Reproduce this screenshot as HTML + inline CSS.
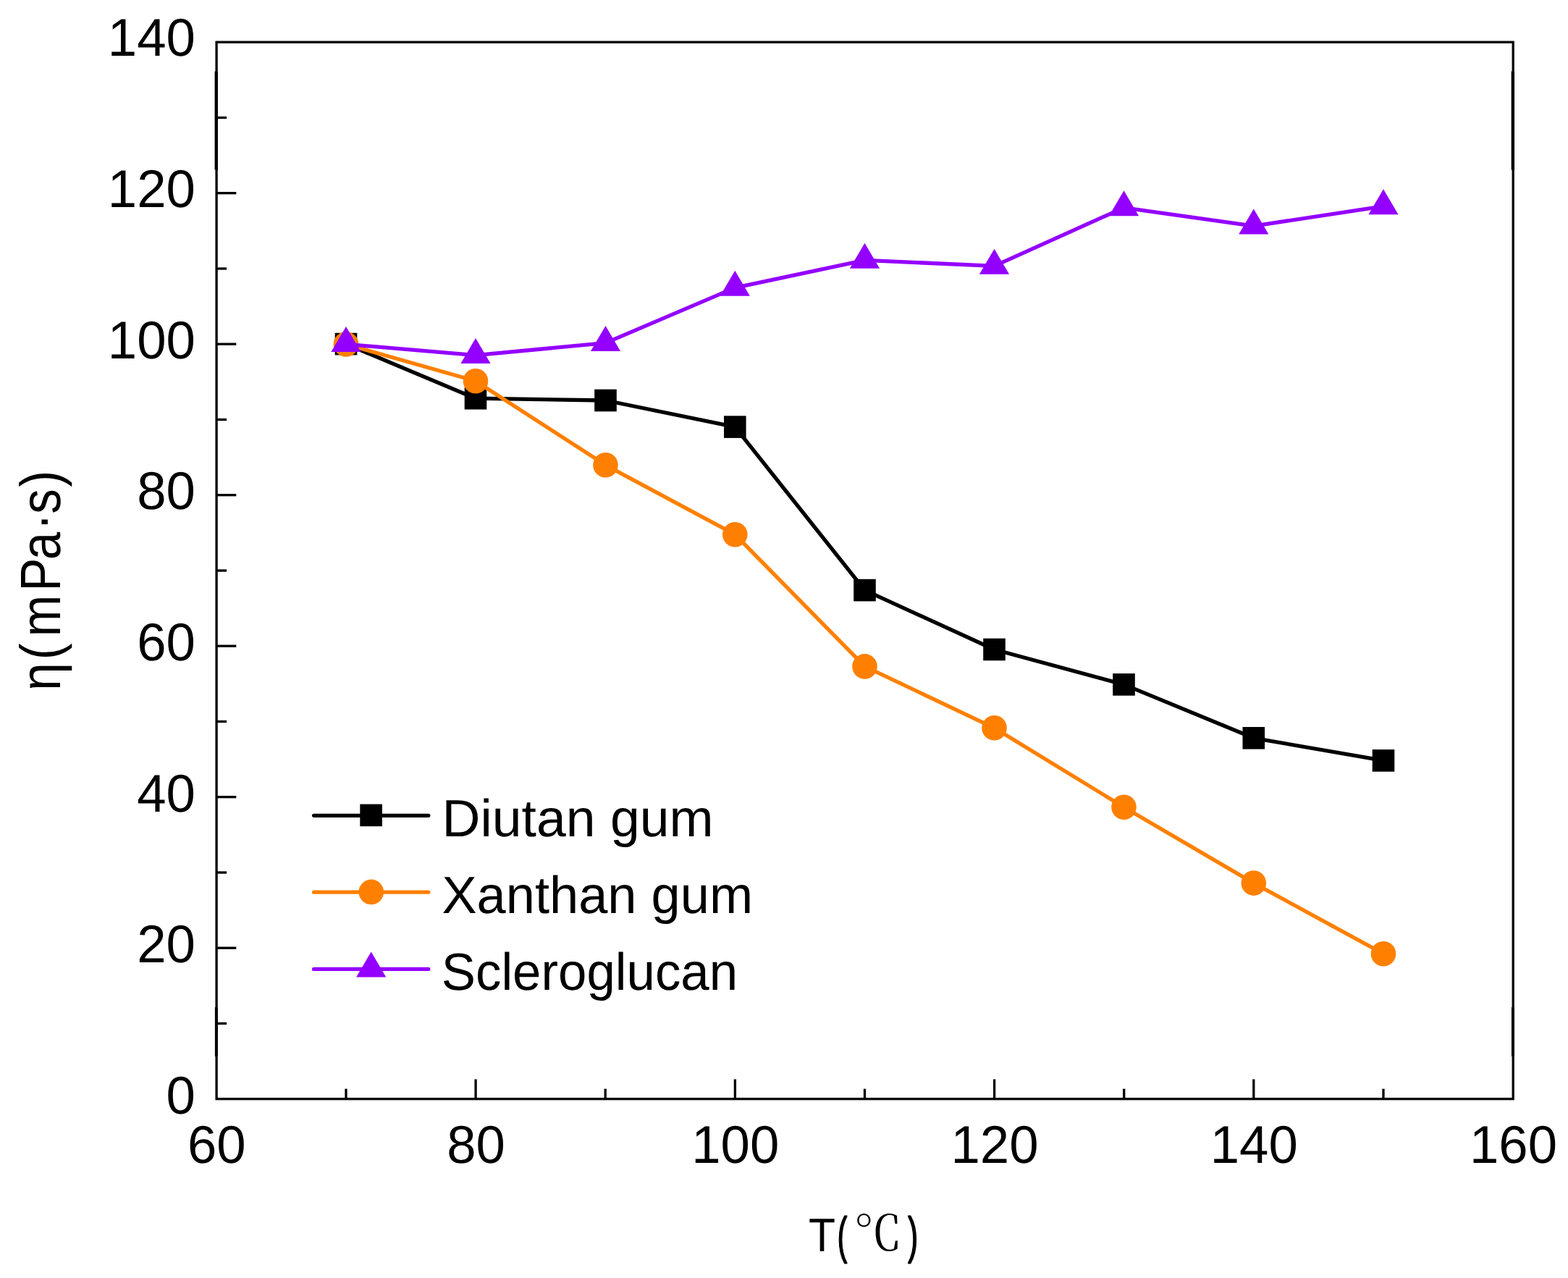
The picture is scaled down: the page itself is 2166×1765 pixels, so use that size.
<!DOCTYPE html>
<html lang="en">
<head>
<meta charset="utf-8">
<title>Viscosity vs temperature</title>
<style>
html,body{margin:0;padding:0;background:#fff;}
body{width:2166px;height:1765px;overflow:hidden;}
svg{display:block;}
text{fill:#000;font-kerning:none;white-space:pre;text-rendering:geometricPrecision;}
.t{font-family:"Liberation Sans",sans-serif;}
.c{font-family:"Noto Serif CJK SC","Liberation Serif",serif;}
</style>
</head>
<body>
<svg width="2166" height="1765" viewBox="0 0 2166 1765">
<rect x="0" y="0" width="2166" height="1765" fill="#ffffff"/>
<g id="series-diutan">
<polyline points="478.0,475.1 657.0,550.2 836.5,553.0 1015.3,589.6 1194.5,815.1 1373.5,897.0 1552.5,945.4 1731.8,1019.3 1911.0,1050.4" fill="none" stroke="#000000" stroke-width="5.3" stroke-linejoin="round" stroke-linecap="round"/>
<rect x="462.7" y="459.8" width="30.6" height="30.6" fill="#000000"/>
<rect x="641.7" y="534.9" width="30.6" height="30.6" fill="#000000"/>
<rect x="821.2" y="537.7" width="30.6" height="30.6" fill="#000000"/>
<rect x="1000.0" y="574.3" width="30.6" height="30.6" fill="#000000"/>
<rect x="1179.2" y="799.8" width="30.6" height="30.6" fill="#000000"/>
<rect x="1358.2" y="881.7" width="30.6" height="30.6" fill="#000000"/>
<rect x="1537.2" y="930.1" width="30.6" height="30.6" fill="#000000"/>
<rect x="1716.5" y="1004.0" width="30.6" height="30.6" fill="#000000"/>
<rect x="1895.7" y="1035.1" width="30.6" height="30.6" fill="#000000"/>
</g>
<g id="series-xanthan">
<polyline points="478.0,475.4 657.0,526.3 836.5,642.3 1015.3,738.2 1194.5,920.4 1373.5,1005.3 1552.5,1114.7 1731.8,1219.6 1911.0,1317.2" fill="none" stroke="#ff8000" stroke-width="5.3" stroke-linejoin="round" stroke-linecap="round"/>
<circle cx="478.0" cy="475.4" r="17.3" fill="#ff8000"/>
<circle cx="657.0" cy="526.3" r="17.3" fill="#ff8000"/>
<circle cx="836.5" cy="642.3" r="17.3" fill="#ff8000"/>
<circle cx="1015.3" cy="738.2" r="17.3" fill="#ff8000"/>
<circle cx="1194.5" cy="920.4" r="17.3" fill="#ff8000"/>
<circle cx="1373.5" cy="1005.3" r="17.3" fill="#ff8000"/>
<circle cx="1552.5" cy="1114.7" r="17.3" fill="#ff8000"/>
<circle cx="1731.8" cy="1219.6" r="17.3" fill="#ff8000"/>
<circle cx="1911.0" cy="1317.2" r="17.3" fill="#ff8000"/>
</g>
<g id="series-scleroglucan">
<polyline points="478.0,475.4 657.0,490.7 836.5,473.6 1015.3,397.4 1194.5,359.4 1373.5,367.3 1552.5,286.8 1731.8,312.1 1911.0,284.8" fill="none" stroke="#9400ff" stroke-width="5.3" stroke-linejoin="round" stroke-linecap="round"/>
<polygon points="478.0,451.0 498.6,486.0 457.4,486.0" fill="#9400ff"/>
<polygon points="657.0,467.1 677.6,502.1 636.4,502.1" fill="#9400ff"/>
<polygon points="836.5,450.0 857.1,485.0 815.9,485.0" fill="#9400ff"/>
<polygon points="1015.3,373.8 1035.9,408.8 994.7,408.8" fill="#9400ff"/>
<polygon points="1194.5,335.8 1215.1,370.8 1173.9,370.8" fill="#9400ff"/>
<polygon points="1373.5,343.7 1394.1,378.7 1352.9,378.7" fill="#9400ff"/>
<polygon points="1552.5,263.2 1573.1,298.2 1531.9,298.2" fill="#9400ff"/>
<polygon points="1731.8,288.5 1752.4,323.5 1711.2,323.5" fill="#9400ff"/>
<polygon points="1911.0,261.2 1931.6,296.2 1890.4,296.2" fill="#9400ff"/>
</g>
<g id="axes" stroke="#000" fill="none">
<rect x="299.1" y="58.2" width="1791.1" height="1459.5" stroke-width="3.3"/>
<line x1="298.8" y1="98.5" x2="298.8" y2="234.6" stroke-width="4.4"/>
<line x1="298.90000000000003" y1="1391" x2="298.90000000000003" y2="1459" stroke-width="4.0"/>
<line x1="2089.85" y1="98.5" x2="2089.85" y2="234.6" stroke-width="4.4"/>
<line x1="2089.9500000000003" y1="1391" x2="2089.9500000000003" y2="1459" stroke-width="4.0"/>
<line x1="299.1" y1="1413.5" x2="313.1" y2="1413.5" stroke-width="3.3"/>
<line x1="299.1" y1="1309.2" x2="326.3" y2="1309.2" stroke-width="3.3"/>
<line x1="299.1" y1="1205.0" x2="313.1" y2="1205.0" stroke-width="3.3"/>
<line x1="299.1" y1="1100.7" x2="326.3" y2="1100.7" stroke-width="3.3"/>
<line x1="299.1" y1="996.5" x2="313.1" y2="996.5" stroke-width="3.3"/>
<line x1="299.1" y1="892.2" x2="326.3" y2="892.2" stroke-width="3.3"/>
<line x1="299.1" y1="788.0" x2="313.1" y2="788.0" stroke-width="3.3"/>
<line x1="299.1" y1="683.7" x2="326.3" y2="683.7" stroke-width="3.3"/>
<line x1="299.1" y1="579.5" x2="313.1" y2="579.5" stroke-width="3.3"/>
<line x1="299.1" y1="475.2" x2="326.3" y2="475.2" stroke-width="3.3"/>
<line x1="299.1" y1="371.0" x2="313.1" y2="371.0" stroke-width="3.3"/>
<line x1="299.1" y1="266.7" x2="326.3" y2="266.7" stroke-width="3.3"/>
<line x1="299.1" y1="162.5" x2="313.1" y2="162.5" stroke-width="3.3"/>
<line x1="478.0" y1="1517.7" x2="478.0" y2="1503.7" stroke-width="3.3"/>
<line x1="657.1" y1="1517.7" x2="657.1" y2="1490.5" stroke-width="3.3"/>
<line x1="836.2" y1="1517.7" x2="836.2" y2="1503.7" stroke-width="3.3"/>
<line x1="1015.4" y1="1517.7" x2="1015.4" y2="1490.5" stroke-width="3.3"/>
<line x1="1194.5" y1="1517.7" x2="1194.5" y2="1503.7" stroke-width="3.3"/>
<line x1="1373.6" y1="1517.7" x2="1373.6" y2="1490.5" stroke-width="3.3"/>
<line x1="1552.7" y1="1517.7" x2="1552.7" y2="1503.7" stroke-width="3.3"/>
<line x1="1731.8" y1="1517.7" x2="1731.8" y2="1490.5" stroke-width="3.3"/>
<line x1="1911.0" y1="1517.7" x2="1911.0" y2="1503.7" stroke-width="3.3"/>
</g>
<g id="ticklabels">
<text class="t" transform="translate(229.55 1538.10) scale(0.987 1)" font-size="73.5">0</text>
<text class="t" transform="translate(189.21 1329.39) scale(0.987 1)" font-size="73.5">20</text>
<text class="t" transform="translate(189.21 1120.67) scale(0.987 1)" font-size="73.5">40</text>
<text class="t" transform="translate(189.21 911.96) scale(0.987 1)" font-size="73.5">60</text>
<text class="t" transform="translate(189.21 703.24) scale(0.987 1)" font-size="73.5">80</text>
<text class="t" transform="translate(148.86 494.53) scale(0.987 1)" font-size="73.5">100</text>
<text class="t" transform="translate(148.86 285.81) scale(0.987 1)" font-size="73.5">120</text>
<text class="t" transform="translate(148.86 77.10) scale(0.987 1)" font-size="73.5">140</text>
<text class="t" transform="translate(258.93 1605.50) scale(0.987 1)" font-size="73.5">60</text>
<text class="t" transform="translate(617.17 1605.50) scale(0.987 1)" font-size="73.5">80</text>
<text class="t" transform="translate(955.24 1605.50) scale(0.987 1)" font-size="73.5">100</text>
<text class="t" transform="translate(1313.48 1605.50) scale(0.987 1)" font-size="73.5">120</text>
<text class="t" transform="translate(1671.72 1605.50) scale(0.987 1)" font-size="73.5">140</text>
<text class="t" transform="translate(2029.96 1605.50) scale(0.987 1)" font-size="73.5">160</text>
</g>
<g id="titles">
<text class="t" transform="rotate(-90) translate(0 83.00) scale(0.8800 1)" x="-1083.70 -1035.62 -999.19 -928.12 -878.67 -832.03 -806.63 -764.39" y="0" font-size="78.5">η(mPa·s)</text>
<text class="t"><tspan x="1116.94" y="1728.10" font-size="65.0" textLength="37.05" lengthAdjust="spacingAndGlyphs">T</tspan><tspan x="1156.80" y="1729.70" font-size="69.6" textLength="13.44" lengthAdjust="spacingAndGlyphs" stroke="#000" stroke-width="2.0" stroke-linejoin="round">(</tspan><tspan class="c" x="1179.3" y="1727.0" font-size="67.0">℃</tspan><tspan x="1254.16" y="1729.70" font-size="69.6" textLength="13.82" lengthAdjust="spacingAndGlyphs" stroke="#000" stroke-width="2.0" stroke-linejoin="round">)</tspan></text>
</g>
<g id="legend">
<line x1="433.6" y1="1126.3" x2="591.8" y2="1126.3" stroke="#000000" stroke-width="5.3" stroke-linecap="round"/>
<rect x="497.3" y="1110.6" width="30.6" height="30.6" fill="#000000"/>
<text class="t" transform="translate(610.48 1155.00) scale(1.0122 1.0000)" font-size="72.5">Diutan gum</text>
<line x1="433.6" y1="1232.2" x2="591.8" y2="1232.2" stroke="#ff8000" stroke-width="5.3" stroke-linecap="round"/>
<circle cx="512.8" cy="1231.9" r="17.3" fill="#ff8000"/>
<text class="t" transform="translate(610.38 1260.80) scale(0.9965 1.0000)" font-size="72.5">Xanthan gum</text>
<line x1="433.6" y1="1338.4" x2="591.8" y2="1338.4" stroke="#9400ff" stroke-width="5.3" stroke-linecap="round"/>
<polygon points="512.7,1314.5 533.3,1349.5 492.1,1349.5" fill="#9400ff"/>
<text class="t" transform="translate(609.79 1366.70) scale(0.9763 1.0000)" font-size="72.5">Scleroglucan</text>
</g>
</svg>
</body>
</html>
